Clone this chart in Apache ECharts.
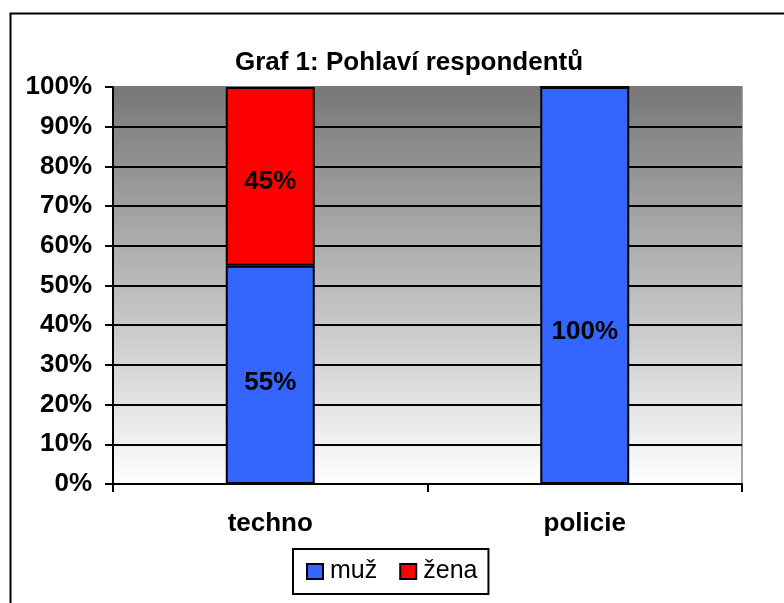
<!DOCTYPE html>
<html>
<head>
<meta charset="utf-8">
<script src="https://cdn.jsdelivr.net/npm/echarts@6/dist/echarts.min.js"></script>
<style>
  html, body { margin: 0; padding: 0; background: #fff; }
  #chart { width: 784px; height: 603px; }
</style>
</head>
<body>
<div id="chart"></div>
<script>
// data
const categories = ["techno", "policie"];
const muz = [55, 100];
const zena = [45, 0];
const yTicks = [0, 10, 20, 30, 40, 50, 60, 70, 80, 90, 100];

const font = "'Liberation Sans', Arial, sans-serif";
const chart = echarts.init(document.getElementById("chart"));

// gridlines black, the top one (100%) blends into the grey border
const splitColors = yTicks.map((t, i) => (i === yTicks.length - 1 ? "#7a7a7a" : "#000"));

const labelStyle = {
  show: true,
  position: "inside",
  formatter: "{c}%",
  fontFamily: font,
  fontSize: 26,
  fontWeight: "bold",
  color: "#000",
};

const option = {
  backgroundColor: "#fff",
  animation: false,
  title: {
    text: "Graf 1: Pohlaví respondentů",
    left: 404,
    textAlign: "center",
    top: 45,
    textStyle: { fontFamily: font, fontSize: 26, fontWeight: "bold", color: "#000" },
  },
  graphic: [
    {
      type: "rect",
      shape: { x: 10.5, y: 13.5, width: 800, height: 620 },
      style: { fill: "none", stroke: "#000", lineWidth: 2 },
      silent: true,
    },
  ],
  grid: {
    left: 113,
    right: 42,
    top: 87,
    bottom: 119,
    show: true,
    borderColor: "#888",
    borderWidth: 1.5,
    backgroundColor: new echarts.graphic.LinearGradient(0, 0, 0, 1, [
      { offset: 0, color: "#777777" },
      { offset: 1, color: "#ffffff" },
    ]),
  },
  legend: {
    data: ["muž", "žena"],
    left: 293,
    top: 549,
    padding: [10, 11, 10, 13],
    itemGap: 22,
    itemWidth: 16,
    itemHeight: 15,
    icon: "rect",
    borderColor: "#000",
    borderWidth: 2,
    textStyle: { fontFamily: font, fontSize: 25, color: "#000", padding: [0, 0, 0, 2] },
    itemStyle: { borderColor: "#000", borderWidth: 2 },
  },
  xAxis: {
    type: "category",
    data: categories,
    axisLine: { lineStyle: { color: "#000", width: 2 } },
    axisTick: { show: true, length: 8, lineStyle: { color: "#000", width: 2 } },
    axisLabel: {
      margin: 27,
      fontFamily: font,
      fontSize: 26,
      fontWeight: "bold",
      color: "#000",
    },
  },
  yAxis: {
    type: "value",
    min: yTicks[0],
    max: yTicks[yTicks.length - 1],
    interval: 10,
    axisLine: { show: true, lineStyle: { color: "#000", width: 2 } },
    axisTick: { show: true, length: 8, lineStyle: { color: "#000", width: 2 } },
    axisLabel: {
      margin: 21,
      formatter: "{value}%",
      fontFamily: font,
      fontSize: 26,
      fontWeight: "bold",
      color: "#000",
    },
    splitLine: { lineStyle: { color: splitColors, width: 2 } },
  },
  series: [
    {
      name: "muž",
      type: "bar",
      stack: "total",
      barWidth: 89,
      data: muz.map((v, i) => ({
        value: v,
        label: { offset: [0, i === 1 ? 46 : 8] },
      })),
      itemStyle: { color: "#3366FF", borderColor: "#000", borderWidth: 2 },
      label: labelStyle,
    },
    {
      name: "žena",
      type: "bar",
      stack: "total",
      barWidth: 89,
      data: zena.map((v) => ({
        value: v,
        label: { show: v > 0, offset: [0, 6] },
      })),
      itemStyle: { color: "#FF0000", borderColor: "#000", borderWidth: 2 },
      label: labelStyle,
    },
  ],
};

chart.setOption(option);
</script>
</body>
</html>
